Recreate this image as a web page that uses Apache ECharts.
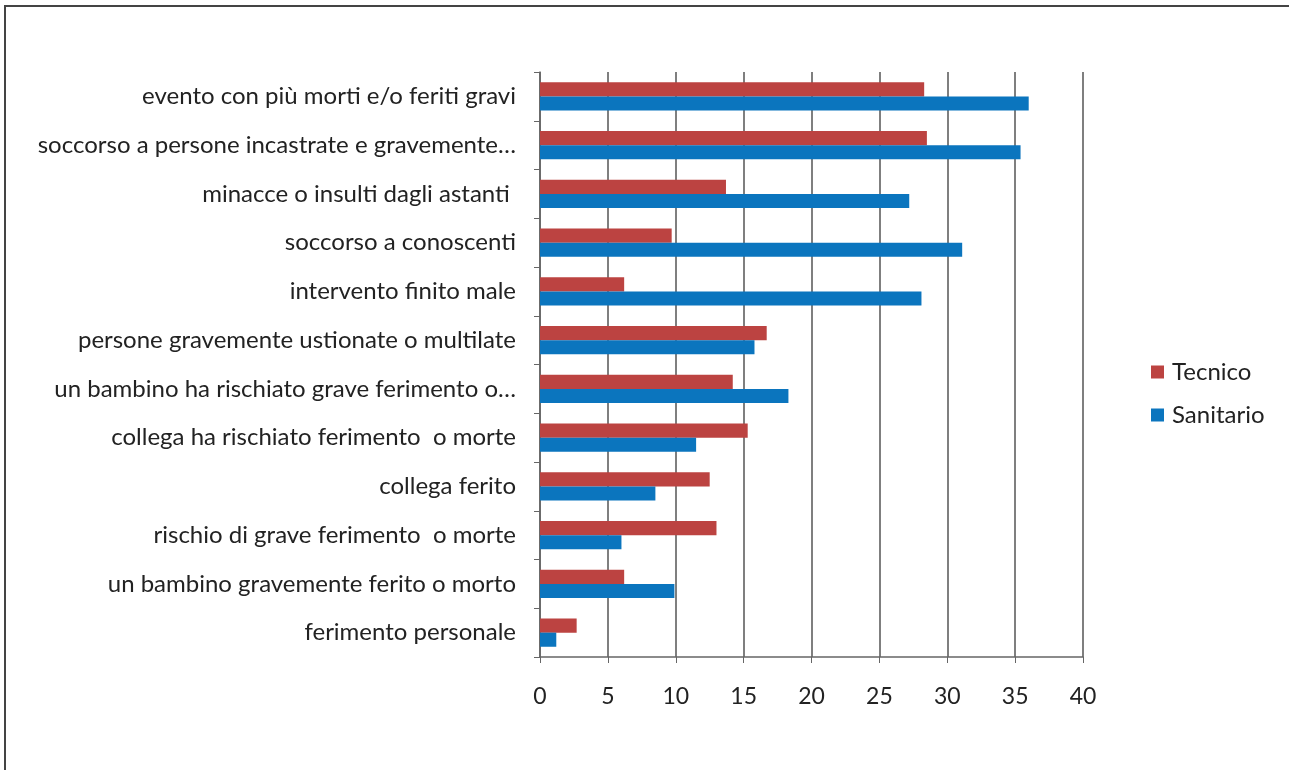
<!DOCTYPE html>
<html>
<head>
<meta charset="utf-8">
<script src="https://cdn.jsdelivr.net/npm/echarts@6/dist/echarts.min.js"></script>
<style>
  html, body { margin: 0; padding: 0; background: #fff; overflow: hidden; }
  #main { width: 1289px; height: 770px; }
  .frame {
    position: absolute; left: 4px; top: 5px; width: 1300px; height: 800px;
    border-left: 2px solid #444; border-top: 2px solid #444;
    pointer-events: none;
  }
</style>
</head>
<body>
<div id="main"></div>
<div class="frame"></div>
<script>
// categories, top to bottom
var categories = [
  "evento con più morti e/o feriti gravi",
  "soccorso a persone incastrate e gravemente…",
  "minacce o insulti dagli astanti ",
  "soccorso a conoscenti",
  "intervento finito male",
  "persone gravemente ustionate o multilate",
  "un bambino ha rischiato grave ferimento o…",
  "collega ha rischiato ferimento  o morte",
  "collega ferito",
  "rischio di grave ferimento  o morte",
  "un bambino gravemente ferito o morto",
  "ferimento personale"
];
var tecnico = [28.3, 28.5, 13.7, 9.7, 6.2, 16.7, 14.2, 15.3, 12.5, 13.0, 6.2, 2.7];
var sanitario = [36.0, 35.4, 27.2, 31.1, 28.1, 15.8, 18.3, 11.5, 8.5, 6.0, 9.9, 1.2];
var xTicks = { min: 0, max: 40, interval: 5 };

var myChart = echarts.init(document.getElementById("main"));
myChart.setOption({
  animation: false,
  textStyle: { fontFamily: "Lato" },
  legend: {
    orient: "vertical",
    left: 1146,
    top: 355,
    itemWidth: 13,
    itemHeight: 13,
    itemGap: 19,
    icon: "rect",
    textStyle: { fontSize: 24, color: "#222", fontFamily: "Lato", padding: [0, 0, 0, 3] },
    data: ["Tecnico", "Sanitario"]
  },
  grid: {
    left: 540,
    top: 72,
    width: 543,
    height: 585
  },
  xAxis: {
    type: "value",
    min: xTicks.min,
    max: xTicks.max,
    interval: xTicks.interval,
    axisLine: { show: true, lineStyle: { color: "#666", width: 1.5 } },
    axisTick: { show: true, length: 6, lineStyle: { color: "#666" } },
    axisLabel: { fontSize: 23, color: "#222", margin: 28 },
    splitLine: { show: true, lineStyle: { color: "#555", width: 1.5 } }
  },
  yAxis: {
    type: "category",
    inverse: true,
    data: categories,
    axisLine: { show: true, lineStyle: { color: "#666", width: 1.5 } },
    axisTick: { show: true, length: 6, lineStyle: { color: "#666" } },
    axisLabel: { fontSize: 24, color: "#222", margin: 24 }
  },
  series: [
    {
      name: "Tecnico",
      type: "bar",
      data: tecnico,
      barGap: "0%",
      barCategoryGap: "42%",
      itemStyle: { color: "#BC4341" }
    },
    {
      name: "Sanitario",
      type: "bar",
      data: sanitario,
      barGap: "0%",
      barCategoryGap: "42%",
      itemStyle: { color: "#0B75BE" }
    }
  ]
});
</script>
</body>
</html>
